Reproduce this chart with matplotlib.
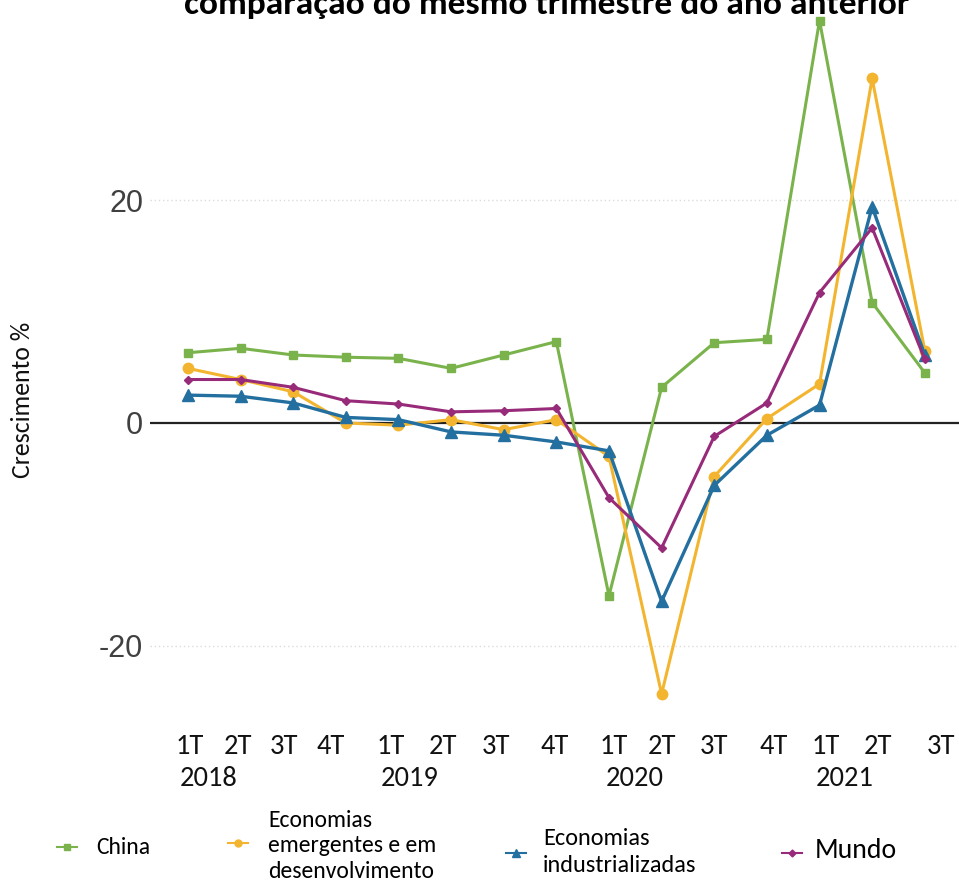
import matplotlib.pyplot as plt
from matplotlib.lines import Line2D
from matplotlib.transforms import blended_transform_factory

# dados (crescimento % em relação ao mesmo trimestre do ano anterior)
quarters = ['1T', '2T', '3T', '4T', '1T', '2T', '3T', '4T', '1T', '2T', '3T', '4T', '1T', '2T', '3T']
years = ['2018', '2019', '2020', '2021']
china = [6.3, 6.7, 6.1, 5.9, 5.8, 4.9, 6.1, 7.3, -15.5, 3.2, 7.2, 7.5, 36.1, 10.8, 4.5]
emergentes = [4.9, 3.9, 2.8, 0.0, -0.2, 0.3, -0.6, 0.3, -3.0, -24.3, -4.8, 0.4, 3.5, 30.9, 6.5]
industrializadas = [2.5, 2.4, 1.8, 0.5, 0.3, -0.8, -1.1, -1.7, -2.5, -16.0, -5.6, -1.1, 1.6, 19.4, 6.1]
mundo = [3.9, 3.9, 3.2, 2.0, 1.7, 1.0, 1.1, 1.3, -6.7, -11.2, -1.2, 1.8, 11.7, 17.5, 5.7]

C_CHINA = '#7ab34c'
C_EMERG = '#f3b52f'
C_INDUS = '#236f9f'
C_MUNDO = '#982b79'

FONT = ['Carlito', 'Liberation Sans Narrow', 'Open Sans', 'DejaVu Sans']

W, H = 959, 882
fig = plt.figure(figsize=(W / 100, H / 100), dpi=100)
# eixo em pixels: esquerda 150, direita 959, topo 0, base 720
ax = fig.add_axes([150 / W, 1 - 720 / H, (W - 150) / W, 720 / H])

x = list(range(len(quarters)))
ax.plot(x, china, color=C_CHINA, lw=2.2, marker='s', ms=5.5, zorder=3)
ax.plot(x, emergentes, color=C_EMERG, lw=2.2, marker='o', ms=7.5, zorder=4)
ax.plot(x, industrializadas, color=C_INDUS, lw=2.4, marker='^', ms=9, zorder=5)
ax.plot(x, mundo, color=C_MUNDO, lw=2.2, marker='D', ms=4.5, zorder=6)

ax.axhline(0, color='#222222', lw=1.6, zorder=2)
for g in (20, -20):
    ax.axhline(g, color='#dcdcdc', lw=1, ls=(0, (1, 2)), zorder=1)

ax.set_xlim(-0.72, 14.65)
ax.set_ylim(-26.64, 37.94)
for s in ax.spines.values():
    s.set_visible(False)
ax.set_xticks([])
ax.set_yticks([-20, 0, 20])
ax.set_yticklabels(['-20', '0', '20'], fontsize=22, color='#404040', family='Liberation Sans')
ax.tick_params(axis='y', length=0, pad=5)

# rótulos do eixo x (duas linhas)
tr = blended_transform_factory(ax.transData, fig.transFigure)
q_px = [190, 238, 284, 331, 391, 443, 496, 555, 614, 662, 714, 774, 826, 878, 941]
for px, q in zip(q_px, quarters):
    ax.text((px - 188) / 52.64, 1 - 747 / H, q, transform=tr, ha='center', va='center',
            fontsize=20.5, family=FONT, color='#111111')
y_px = [209, 410, 635, 845]
for px, yr in zip(y_px, years):
    ax.text((px - 188) / 52.64, 1 - 778 / H, yr, transform=tr, ha='center', va='center',
            fontsize=20.5, family=FONT, color='#111111')

fig.text(23 / W, 1 - 400 / H, 'Crescimento %', rotation=90, ha='center', va='center',
         fontsize=18.5, family=FONT, color='#111111')

# título (cortado no topo)
fig.text(547 / W, 1 - 14 / H, 'comparação do mesmo trimestre do ano anterior', ha='center',
         va='baseline', fontsize=25.5, fontweight='bold', family=FONT, color='black')

# legenda manual
def handle(cx, cy, color, marker, ms):
    fig.add_artist(Line2D([(cx - 10) / W, (cx + 10) / W], [1 - cy / H, 1 - cy / H],
                          transform=fig.transFigure, color=color, lw=1.5))
    fig.add_artist(Line2D([cx / W], [1 - cy / H], transform=fig.transFigure, color=color,
                          marker=marker, ms=ms, lw=0))

handle(67, 847, C_CHINA, 's', 4)
fig.text(96 / W, 1 - 847 / H, 'China', ha='left', va='center', fontsize=17, family=FONT)
handle(238, 843, C_EMERG, 'o', 5)
fig.text(268 / W, 1 - 846 / H, 'Economias\nemergentes e em\ndesenvolvimento', ha='left',
         va='center', fontsize=17, family=FONT, linespacing=1.27)
handle(516, 853, C_INDUS, '^', 6)
fig.text(543 / W, 1 - 852 / H, 'Economias\nindustrializadas', ha='left', va='center',
         fontsize=17.5, family=FONT, linespacing=1.3)
handle(792, 853, C_MUNDO, 'D', 3.5)
fig.text(815 / W, 1 - 850 / H, 'Mundo', ha='left', va='center', fontsize=20, family=FONT)

fig.savefig('out.png', dpi=100, facecolor='white')
